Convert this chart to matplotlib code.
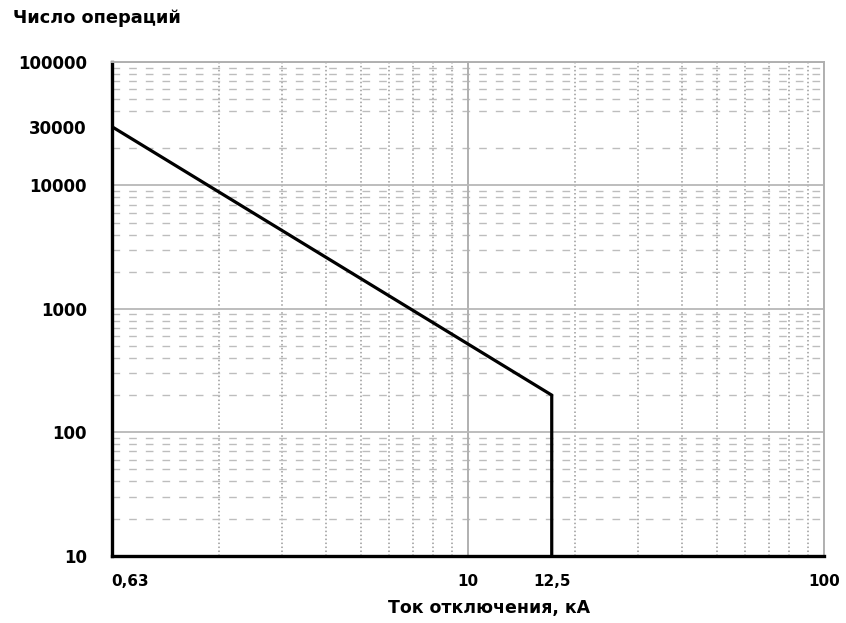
import numpy as np
import matplotlib
matplotlib.use("Agg")
import matplotlib.pyplot as plt
from matplotlib.ticker import LogLocator, NullFormatter, FixedLocator, FixedFormatter

# Data (x in axis position units; the axis is labelled 0,63 at the left edge and 12,5 at the break)
current_pos = [1.0, 17.2, 17.2]
operations = [30000, 200, 10]

x_tick_pos = [1, 10, 17.2, 100]
x_tick_labels = ["0,63", "10", "12,5", "100"]
y_tick_pos = [10, 100, 1000, 10000, 30000, 100000]
y_tick_labels = ["10", "100", "1000", "10000", "30000", "100000"]
decades_x = [10, 100]
decades_y = [100, 1000, 10000, 100000]

plt.rcParams['font.family'] = ['DejaVu Sans']
fig = plt.figure(figsize=(8.46, 6.23), dpi=100)
W, H = 846, 623
ax = fig.add_axes([111.7 / W, 1 - 555.7 / H, (824 - 111.7) / W, (555.7 - 62) / H])
ax.set_xscale('log')
ax.set_yscale('log')
ax.set_xlim(1, 100)
ax.set_ylim(10, 100000)

# minor grids
ax.xaxis.set_minor_locator(LogLocator(base=10, subs=np.arange(2, 10), numticks=20))
ax.yaxis.set_minor_locator(LogLocator(base=10, subs=np.arange(2, 10), numticks=20))
ax.xaxis.set_minor_formatter(NullFormatter())
ax.yaxis.set_minor_formatter(NullFormatter())
ax.xaxis.grid(True, which='minor', color='#9a9a9a', linewidth=1.1, linestyle=(0, (1, 1.6)))
ax.yaxis.grid(True, which='minor', color='#bdbdbd', linewidth=1.0, linestyle=(0, (5.5, 6.5)))
ax.xaxis.grid(False, which='major')
ax.yaxis.grid(False, which='major')

for xv in decades_x:
    ax.axvline(xv, color='#b0b0b0', linewidth=1.4, zorder=1)
for yv in decades_y:
    ax.axhline(yv, color='#b8b8b8', linewidth=1.3, zorder=1)

ax.plot(current_pos, operations, color='black', linewidth=2.3, zorder=5, solid_joinstyle='miter')

ax.xaxis.set_major_locator(FixedLocator(x_tick_pos))
ax.xaxis.set_major_formatter(FixedFormatter(x_tick_labels))
ax.yaxis.set_major_locator(FixedLocator(y_tick_pos))
ax.yaxis.set_major_formatter(FixedFormatter(y_tick_labels))
ax.tick_params(which='both', length=0)
ax.tick_params(axis='y', which='major', pad=18, labelsize=12)
ax.tick_params(axis='x', which='major', pad=13, labelsize=11)
for lab in ax.get_xticklabels() + ax.get_yticklabels():
    lab.set_fontweight('bold')
ax.get_xticklabels()[0].set_horizontalalignment('left')

for s in ['left', 'bottom']:
    ax.spines[s].set_linewidth(2.4)
    ax.spines[s].set_color('black')
for s in ['top', 'right']:
    ax.spines[s].set_linewidth(1.4)
    ax.spines[s].set_color('#b0b0b0')
ax.set_axisbelow(True)

ax.set_xlabel("Ток отключения, кА", fontsize=12.5, fontweight='bold')
ax.xaxis.set_label_coords((489 - 111.7) / (824 - 111.7), -(608 - 555.7) / (555.7 - 62))
ax.xaxis.label.set_verticalalignment('center')
fig.text(13 / W, 1 - 18 / H, "Число операций", fontsize=12.8, fontweight='bold',
         ha='left', va='center')

fig.savefig("out.png", dpi=100, facecolor='white')
